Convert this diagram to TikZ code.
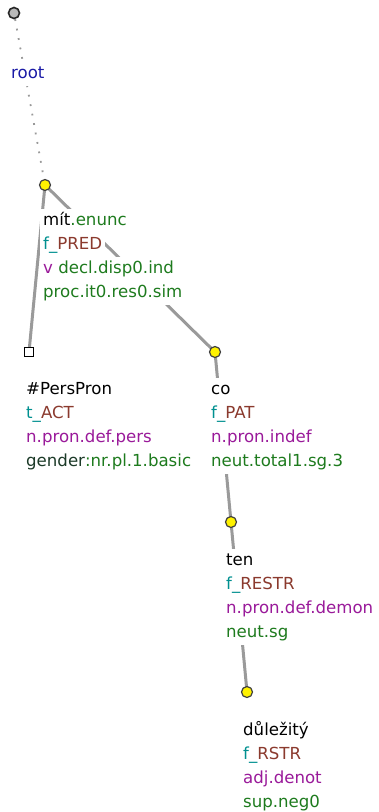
\documentclass[tikz,border=0pt]{standalone}
\usepackage{fontspec}
\setmainfont{DejaVu Sans}
\usepackage{xcolor}
\usetikzlibrary{backgrounds}
\definecolor{bleuRacine}{HTML}{1A1AA6}
\definecolor{vertGram}{HTML}{1E7B1E}
\definecolor{vertSombre}{HTML}{1C3A28}
\definecolor{sarcelle}{HTML}{009090}
\definecolor{brunFonct}{HTML}{8B3A2E}
\definecolor{violetPos}{HTML}{9A1A9A}
\definecolor{grisArete}{HTML}{9A9A9A}
\definecolor{grisFonce}{HTML}{404040}
\tikzset{
  noeud/.style={circle, draw=grisFonce, fill=yellow, line width=1.2pt,
    minimum size=11pt, inner sep=0pt},
  racine/.style={noeud, fill=gray!55, draw=gray!30!black, line width=1.6pt},
  carre/.style={rectangle, draw=black, fill=white, line width=1pt,
    minimum size=9pt, inner sep=0pt},
  arete/.style={draw=grisArete, line width=3pt},
  areteRacine/.style={draw=gray!80, line width=1.8pt,
    dash pattern=on 1.8pt off 7.8pt},
  ligne/.style={anchor=base west, fill=white, inner xsep=3pt, inner ysep=0pt,
    text height=16pt, text depth=8pt, font=\fontsize{16.6pt}{24pt}\selectfont}
}
\begin{document}
\begin{tikzpicture}[x=1pt, y=-1pt]
  \useasboundingbox (0,0) rectangle (379,812);

  % --- Noeuds de l'arbre
  \node[racine] (R) at ( 14,  13) {};
  \node[noeud]  (M) at ( 45, 185) {};
  \node[carre]  (P) at ( 29, 352) {};
  \node[noeud]  (C) at (215, 352) {};
  \node[noeud]  (T) at (231, 522) {};
  \node[noeud]  (D) at (247, 692) {};

  % --- Aretes (sous les noeuds et les etiquettes)
  \begin{scope}[on background layer]
    \draw[areteRacine] (R) -- (M);
    \draw[arete] (M.center) -- (P.center);
    \draw[arete] (M.center) -- (C.center);
    \draw[arete] (C.center) -- (T.center);
    \draw[arete] (T.center) -- (D.center);
  \end{scope}

  % --- Etiquettes
  \node[ligne] (R1) at (  8,  78) {\textcolor{bleuRacine}{root}};

  \node[ligne] (M1) at ( 40, 225) {mít\textcolor{vertGram}{.enunc}};
  \node[ligne] (M2) at ( 40, 249) {\textcolor{sarcelle}{f\_}\textcolor{brunFonct}{PRED}};
  \node[ligne] (M3) at ( 40, 273) {\textcolor{violetPos}{v} \textcolor{vertGram}{decl.disp0.ind}};
  \node[ligne] (M4) at ( 40, 297) {\textcolor{vertGram}{proc.it0.res0.sim}};

  \node[ligne] (P1) at ( 23, 394) {\#PersPron};
  \node[ligne] (P2) at ( 23, 418) {\textcolor{sarcelle}{t\_}\textcolor{brunFonct}{ACT}};
  \node[ligne] (P3) at ( 23, 442) {\textcolor{violetPos}{n.pron.def.pers}};
  \node[ligne] (P4) at ( 23, 466) {\textcolor{vertSombre}{gender}\textcolor{vertGram}{:nr.pl.1.basic}};

  \node[ligne] (C1) at (208, 394) {co};
  \node[ligne] (C2) at (208, 418) {\textcolor{sarcelle}{f\_}\textcolor{brunFonct}{PAT}};
  \node[ligne] (C3) at (208, 442) {\textcolor{violetPos}{n.pron.indef}};
  \node[ligne] (C4) at (208, 466) {\textcolor{vertGram}{neut.total1.sg.3}};

  \node[ligne] (T1) at (223, 565) {ten};
  \node[ligne] (T2) at (223, 589) {\textcolor{sarcelle}{f\_}\textcolor{brunFonct}{RESTR}};
  \node[ligne] (T3) at (223, 613) {\textcolor{violetPos}{n.pron.def.demon}};
  \node[ligne] (T4) at (223, 637) {\textcolor{vertGram}{neut.sg}};

  \node[ligne] (D1) at (240, 735) {důležitý};
  \node[ligne] (D2) at (240, 759) {\textcolor{sarcelle}{f\_}\textcolor{brunFonct}{RSTR}};
  \node[ligne] (D3) at (240, 783) {\textcolor{violetPos}{adj.denot}};
  \node[ligne] (D4) at (240, 807) {\textcolor{vertGram}{sup.neg0}};

\end{tikzpicture}
\end{document}
